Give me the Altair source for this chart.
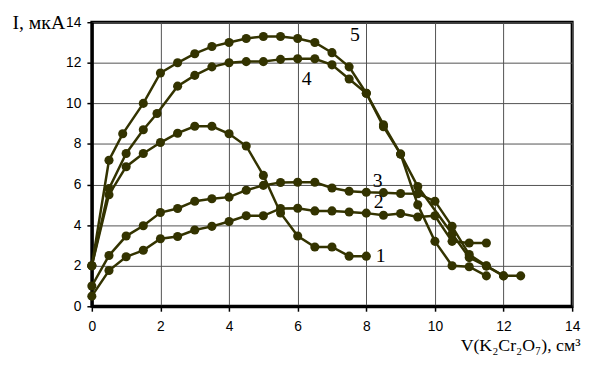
import altair as alt
import pandas as pd

# Curve data (V in cm3, I in uA)
x1 = [0, 0.5, 1, 1.5, 2, 2.5, 3, 3.5, 4, 4.5, 5, 5.5, 6, 6.5, 7, 7.5, 8]
y1 = [2.0, 5.5, 6.88, 7.53, 8.07, 8.53, 8.87, 8.87, 8.5, 7.9, 6.45, 4.6, 3.46, 2.92, 2.92, 2.47, 2.47]

x2 = [0, 0.5, 1, 1.5, 2, 2.5, 3, 3.5, 4, 4.5, 5, 5.5, 6, 6.5, 7, 7.5, 8, 8.5, 9, 9.5, 10, 10.5, 11, 11.5]
y2 = [0.5, 1.76, 2.44, 2.76, 3.33, 3.44, 3.76, 3.94, 4.18, 4.46, 4.46, 4.82, 4.83, 4.7, 4.7, 4.65, 4.59, 4.49, 4.57, 4.4, 4.46, 3.2, 3.12, 3.12]

x3 = [0, 0.5, 1, 1.5, 2, 2.5, 3, 3.5, 4, 4.5, 5, 5.5, 6, 6.5, 7, 7.5, 8, 8.5, 9, 9.5, 10, 10.5, 11, 11.5, 12, 12.5]
y3 = [1.0, 2.5, 3.46, 3.97, 4.62, 4.82, 5.18, 5.3, 5.38, 5.72, 5.96, 6.1, 6.11, 6.11, 5.83, 5.67, 5.62, 5.6, 5.56, 5.55, 5.18, 3.94, 2.55, 2.0, 1.5, 1.5]

x4 = [0, 0.5, 1, 1.5, 1.9, 2.5, 3, 3.5, 4, 4.5, 5, 5.5, 6, 6.5, 7, 7.5, 8, 8.5, 9, 9.5, 10.5, 11, 11.5, 12]
y4 = [2.0, 5.8, 7.53, 8.7, 9.5, 10.85, 11.38, 11.8, 12.0, 12.06, 12.06, 12.17, 12.2, 12.2, 11.9, 11.2, 10.5, 8.85, 7.5, 5.9, 3.57, 2.4, 1.98, 1.5]

x5 = [0, 0.5, 0.9, 1.5, 2, 2.5, 3, 3.5, 4, 4.5, 5, 5.5, 6, 6.5, 7, 7.5, 8, 8.5, 9, 9.5, 10, 10.5, 11, 11.5]
y5 = [2.0, 7.2, 8.5, 10.0, 11.5, 12.0, 12.45, 12.8, 13.0, 13.2, 13.3, 13.3, 13.2, 13.0, 12.5, 11.8, 10.5, 8.95, 7.5, 5.0, 3.2, 2.0, 1.95, 1.5]

label_text = ["1", "2", "3", "4", "5"]
label_x = [8.42, 8.36, 8.33, 6.26, 7.67]
label_y = [2.45, 5.12, 6.19, 11.19, 13.37]

tick_values = [0, 2, 4, 6, 8, 10, 12, 14]

rows = []
for name, xs, ys in [("1", x1, y1), ("2", x2, y2), ("3", x3, y3), ("4", x4, y4), ("5", x5, y5)]:
    for i, (a, b) in enumerate(zip(xs, ys)):
        rows.append({"curve": name, "V": a, "I": b, "idx": i})
df = pd.DataFrame(rows)
labels = pd.DataFrame({"t": label_text, "V": label_x, "I": label_y})

COLOR = "#333300"

xscale = alt.Scale(domain=[0, 14], nice=False, zero=False)
yscale = alt.Scale(domain=[0, 14], nice=False, zero=False)

xaxis = alt.Axis(values=tick_values, title="V(K₂Cr₂O₇), см³", titleFont="Liberation Serif",
                 titleFontSize=18, titleFontWeight="normal", titleColor="black",
                 titleAlign="right", titleBaseline="alphabetic", titleX=495, titleY=45,
                 labelFont="Liberation Sans", labelFontSize=14, labelColor="black",
                 labelPadding=9, tickSize=5, labelFlush=False)
yaxis = alt.Axis(values=tick_values, title="I, мкА", titleFont="Liberation Serif",
                 titleFontSize=20, titleFontWeight="normal", titleColor="black",
                 titleAngle=0, titleAlign="left", titleBaseline="alphabetic",
                 titleX=-81, titleY=6,
                 labelFont="Liberation Sans", labelFontSize=14, labelColor="black",
                 labelPadding=6, tickSize=5, labelFlush=False)

base = alt.Chart(df).encode(
    x=alt.X("V:Q", scale=xscale, axis=xaxis),
    y=alt.Y("I:Q", scale=yscale, axis=yaxis),
    detail="curve:N",
    order="idx:Q",
)

lines = base.mark_line(color=COLOR, strokeWidth=2.5)
points = base.mark_point(filled=True, color=COLOR, size=85, opacity=1)

text = alt.Chart(labels).mark_text(font="Liberation Serif", fontSize=20, color="black",
                                   align="center", baseline="middle").encode(
    x=alt.X("V:Q", scale=xscale),
    y=alt.Y("I:Q", scale=yscale),
    text="t:N",
)

chart = alt.layer(lines, points, text).properties(
    width=487, height=288,
    autosize=alt.AutoSizeParams(type="none"),
    padding={"left": 85, "top": 12, "right": 11, "bottom": 49},
    background="white",
).configure_view(
    stroke="black", strokeWidth=3,
).configure_axis(
    domainColor="black", domainWidth=3, tickColor="black", tickWidth=1.5,
    grid=True, gridColor="#505050", gridWidth=1,
)

chart.save("out.html", embed_options={"renderer": "svg", "actions": False})
